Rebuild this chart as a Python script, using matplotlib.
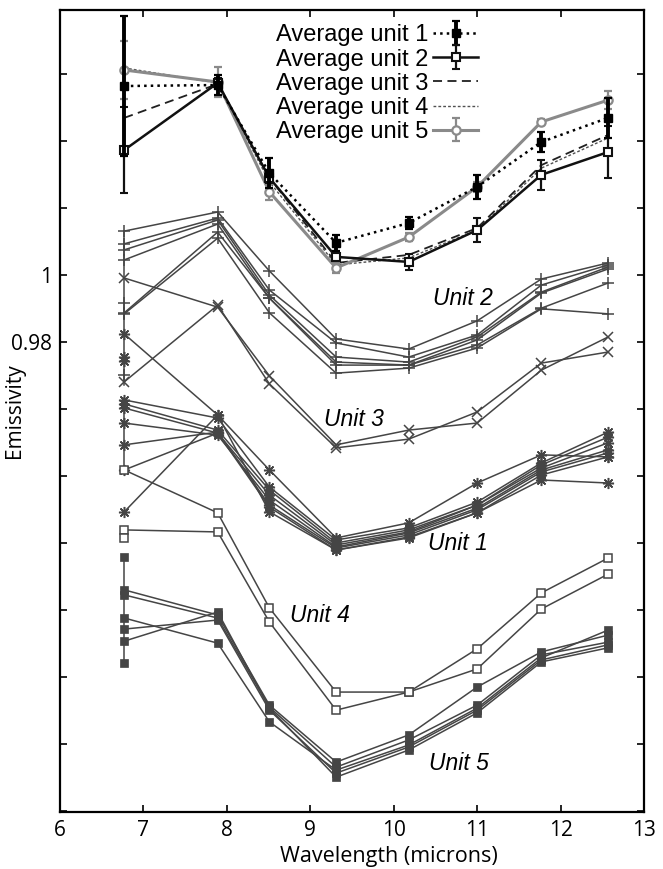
import numpy as np
import matplotlib.pyplot as plt

# band centres (microns)
wavelength = [6.77, 7.89, 8.51, 9.31, 10.18, 11.0, 11.77, 12.57]

# averages (offset stack, top of plot)
avg_unit1 = [1.0564, 1.0567, 1.0304, 1.0096, 1.0155, 1.0263, 1.0397, 1.0469]
avg_unit1_err = [0.0209, 0.0030, 0.0045, 0.0024, 0.0018, 0.0036, 0.0030, 0.0060]
avg_unit2 = [1.0373, 1.0573, 1.0290, 1.0054, 1.0039, 1.0134, 1.0299, 1.0367]
avg_unit2_err = [0.0128, 0.0015, 0.0015, 0.0012, 0.0024, 0.0036, 0.0045, 0.0078]
avg_unit3 = [1.0469, 1.0570, 1.0290, 1.0036, 1.0060, 1.0140, 1.0328, 1.0418]
avg_unit4 = [1.0618, 1.0573, 1.0278, 1.0030, 1.0051, 1.0134, 1.0319, 1.0409]
avg_unit5 = [1.0612, 1.0576, 1.0248, 1.0021, 1.0113, 1.0263, 1.0457, 1.0522]
avg_unit5_err = [0.0087, 0.0045, 0.0024, 0.0015, 0.0012, 0.0015, 0.0009, 0.0027]

# individual spectra
unit2_spectra = [
    [1.0131, 1.0188, 1.0012, 0.9809, 0.9779, 0.9863, 0.9988, 1.0036],
    [1.0093, 1.0170, 0.9955, 0.9797, 0.9755, 0.9821, 0.9970, 1.0030],
    [1.0075, 1.0164, 0.9940, 0.9755, 0.9740, 0.9815, 0.9949, 1.0024],
    [1.0045, 1.0152, 0.9931, 0.9740, 0.9731, 0.9806, 0.9946, 1.0018],
    [0.9887, 1.0128, 0.9931, 0.9731, 0.9731, 0.9791, 0.9901, 0.9976],
    [0.9884, 1.0110, 0.9887, 0.9707, 0.9722, 0.9782, 0.9899, 0.9884],
]
unit2_extra = [0.9916, 0.9701]

unit3_spectra = [
    [0.9991, 0.9904, 0.9699, 0.9493, 0.9537, 0.9558, 0.9716, 0.9815],
    [0.9681, 0.9910, 0.9675, 0.9484, 0.9510, 0.9591, 0.9737, 0.9770],
]

unit1_spectra = [
    [0.9824, 0.9582, 0.9418, 0.9215, 0.9260, 0.9379, 0.9463, 0.9457],
    [0.9627, 0.9573, 0.9367, 0.9209, 0.9245, 0.9322, 0.9439, 0.9531],
    [0.9615, 0.9537, 0.9358, 0.9200, 0.9239, 0.9313, 0.9433, 0.9516],
    [0.9603, 0.9528, 0.9343, 0.9194, 0.9233, 0.9313, 0.9424, 0.9499],
    [0.9558, 0.9522, 0.9328, 0.9188, 0.9230, 0.9304, 0.9418, 0.9478],
    [0.9493, 0.9531, 0.9313, 0.9185, 0.9224, 0.9299, 0.9412, 0.9469],
    [0.9418, 0.9528, 0.9307, 0.9179, 0.9218, 0.9290, 0.9403, 0.9457],
    [0.9293, 0.9582, 0.9293, 0.9179, 0.9215, 0.9290, 0.9388, 0.9379],
]
unit1_extra = [0.9755, 0.9743]

unit4_spectra = [
    [0.9418, 0.9290, 0.9006, 0.8755, 0.8755, 0.8884, 0.9051, 0.9155],
    [0.9239, 0.9233, 0.8964, 0.8701, 0.8755, 0.8824, 0.9003, 0.9107],
]
unit4_extra = [0.9215]

unit5_spectra = [
    [0.9060, 0.8985, 0.8716, 0.8546, 0.8627, 0.8770, 0.8875, 0.8925],
    [0.9045, 0.8976, 0.8710, 0.8531, 0.8612, 0.8716, 0.8866, 0.8904],
    [0.8976, 0.8901, 0.8666, 0.8522, 0.8597, 0.8707, 0.8857, 0.8940],
    [0.8943, 0.8970, 0.8701, 0.8513, 0.8591, 0.8701, 0.8851, 0.8896],
    [0.8907, 0.8994, 0.8707, 0.8501, 0.8582, 0.8693, 0.8845, 0.8887],
]
unit5_extra = [0.9158, 0.8842]

# vertical spread of the first band (top, bottom)
first_band_spans = [(1.0131, 0.9672), (0.9633, 0.9409), (0.9248, 0.9209), (0.9164, 0.8836)]

unit_labels = ['Unit 2', 'Unit 3', 'Unit 1', 'Unit 4', 'Unit 5']
unit_label_pos = [(10.83, 0.9931), (9.52, 0.9570), (10.77, 0.9197), (9.12, 0.8985), (10.78, 0.8543)]

yticks = [0.84, 0.86, 0.88, 0.90, 0.92, 0.94, 0.96, 0.98, 1.00, 1.02, 1.04, 1.06]
ytick_labels = ['', '', '', '', '', '', '', '0.98', '1', '', '', '']

plt.rcParams['font.family'] = ['Open Sans', 'DejaVu Sans']

fig = plt.figure(figsize=(6.63, 8.69), dpi=100)
ax = fig.add_axes([0.0905, 0.0656, 0.8808, 0.9229])

grey = '#454545'
spec_style = dict(color=grey, lw=1.1, zorder=2)

for top, bot in first_band_spans:
    ax.plot([wavelength[0], wavelength[0]], [top, bot], **spec_style)

for s in unit2_spectra:
    ax.plot(wavelength, s, marker='+', ms=9, mew=1.1, **spec_style)
ax.plot([wavelength[0]] * len(unit2_extra), unit2_extra, ls='none', marker='+', ms=9,
        mew=1.1, color=grey)

for s in unit3_spectra:
    ax.plot(wavelength, s, marker='x', ms=7, mew=1.1, **spec_style)

for s in unit1_spectra:
    ax.plot(wavelength, s, marker=(8, 2, 0), ms=8, mew=1.1, **spec_style)
ax.plot([wavelength[0]] * len(unit1_extra), unit1_extra, ls='none', marker=(8, 2, 0), ms=8,
        mew=1.1, color=grey)

for s in unit4_spectra:
    ax.plot(wavelength, s, marker='s', ms=6, mfc='white', mew=1.1, **spec_style)
ax.plot([wavelength[0]] * len(unit4_extra), unit4_extra, ls='none', marker='s', ms=6,
        mfc='white', mew=1.1, color=grey)

for s in unit5_spectra:
    ax.plot(wavelength, s, marker='s', ms=5.5, mew=0.5, **spec_style)
ax.plot([wavelength[0]] * len(unit5_extra), unit5_extra, ls='none', marker='s', ms=5.5,
        mew=0.5, color=grey)

# averages
ax.plot(wavelength, avg_unit4, color='#505050', lw=1.0, ls=(0, (2, 1.5)), zorder=4,
        label='Average unit 4')
ax.plot(wavelength, avg_unit3, color='#202020', lw=1.3, ls=(0, (5, 3)), zorder=4,
        label='Average unit 3')
e5 = ax.errorbar(wavelength, avg_unit5, yerr=avg_unit5_err, color='#8a8a8a', lw=2.2,
                 marker='o', ms=6, mfc='white', mew=1.6, capsize=3, elinewidth=1.6,
                 zorder=5, label='Average unit 5')
e2 = ax.errorbar(wavelength, avg_unit2, yerr=avg_unit2_err, color='#111111', lw=1.8,
                 marker='s', ms=6, mfc='white', mew=1.5, capsize=3, elinewidth=1.6,
                 zorder=6, label='Average unit 2')
e1 = ax.errorbar(wavelength, avg_unit1, yerr=avg_unit1_err, color='black', lw=1.8, ls=':',
                 marker='s', ms=6, capsize=3, elinewidth=2.8, capthick=1.6,
                 zorder=7, label='Average unit 1')

for txt, (x, y) in zip(unit_labels, unit_label_pos):
    ax.text(x, y, txt, fontsize=16.5, style='italic', family='Liberation Sans',
            ha='center', va='center')

handles, labels = ax.get_legend_handles_labels()
order = [labels.index('Average unit %d' % i) for i in range(1, 6)]
ax.legend([handles[i] for i in order], [labels[i] for i in order],
          loc='upper right', bbox_to_anchor=(0.716, 0.982), frameon=False,
          markerfirst=False, borderpad=0, borderaxespad=0, labelspacing=0.09,
          handlelength=1.9, handletextpad=0.2,
          prop={'family': 'Liberation Sans', 'size': 17})

ax.set_xlim(6, 13)
ax.set_ylim(0.8397, 1.0791)
ax.set_xticks(range(6, 14))
ax.set_yticks(yticks)
ax.set_yticklabels(ytick_labels)
ax.tick_params(direction='in', length=5, width=1.2, top=True, right=True,
               labelsize=15, pad=6)
for sp in ax.spines.values():
    sp.set_linewidth(1.6)

ax.set_xlabel('Wavelength (microns)', fontsize=15.5)
ax.set_ylabel('Emissivity', fontsize=15)
ax.xaxis.set_label_coords(0.563, -0.042)
ax.yaxis.set_label_coords(-0.06, 0.5)

fig.savefig('out.png', dpi=100)
